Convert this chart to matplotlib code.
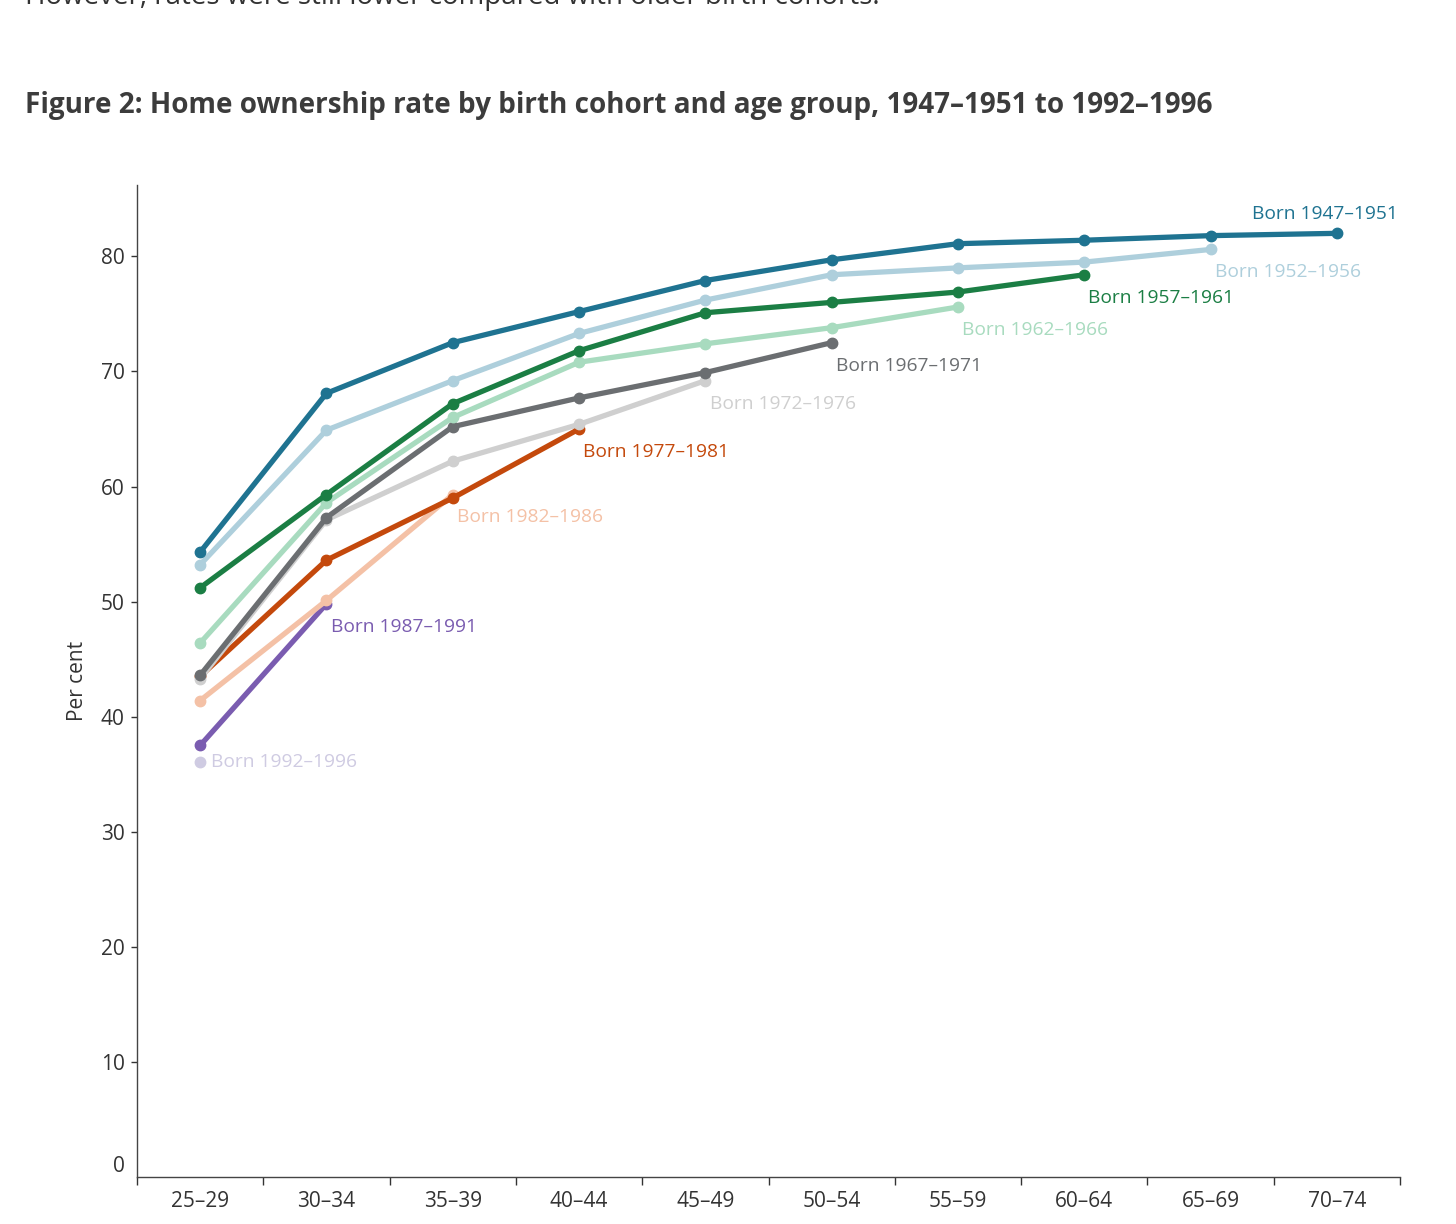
import numpy as np
import matplotlib.pyplot as plt
from matplotlib.ticker import FixedLocator

plt.rcParams['font.family'] = ['Open Sans', 'DejaVu Sans']

ages = ['25–29', '30–34', '35–39', '40–44', '45–49', '50–54', '55–59', '60–64', '65–69', '70–74']

cohorts = ['Born 1947–1951', 'Born 1952–1956', 'Born 1957–1961', 'Born 1962–1966', 'Born 1967–1971',
           'Born 1972–1976', 'Born 1977–1981', 'Born 1982–1986', 'Born 1987–1991', 'Born 1992–1996']

b1947 = [54.3, 68.1, 72.5, 75.2, 77.9, 79.7, 81.1, 81.4, 81.8, 82.0]
b1952 = [53.2, 64.9, 69.2, 73.3, 76.2, 78.4, 79.0, 79.5, 80.6]
b1957 = [51.2, 59.3, 67.2, 71.8, 75.1, 76.0, 76.9, 78.4]
b1962 = [46.4, 58.6, 66.0, 70.8, 72.4, 73.8, 75.6]
b1967 = [43.6, 57.3, 65.2, 67.7, 69.9, 72.5]
b1972 = [43.3, 57.1, 62.2, 65.4, 69.2]
b1977 = [43.5, 53.6, 59.0, 65.0]
b1982 = [41.4, 50.1, 59.3]
b1987 = [37.5, 49.8]
b1992 = [36.1]
values = [b1947, b1952, b1957, b1962, b1967, b1972, b1977, b1982, b1987, b1992]

colors = ['#1f7391', '#aecfdc', '#1b7e44', '#a8dbbf', '#6b6e71',
          '#cfcfcf', '#c4490c', '#f4c1a6', '#7a5cb0', '#cfcbe2']

fig = plt.figure(figsize=(14.56, 12.24), dpi=100)
ax = fig.add_axes([137/1456, 47/1224, (1400-137)/1456, (1177-185)/1224])

for i, (name, vals, c) in enumerate(zip(cohorts, values, colors)):
    x = np.arange(len(vals))
    ax.plot(x, vals, color=c, lw=3.8, marker='o', ms=7.5, zorder=20-i, solid_capstyle='round')
    # label near the last point
    if i == 0:
        ax.annotate(name, (x[-1], vals[-1]), xytext=(-61, 14), textcoords='offset points',
                    color=c, fontsize=13.8, va='center', ha='left')
    elif i == len(cohorts) - 1:
        ax.annotate(name, (x[-1], vals[-1]), xytext=(8, 0), textcoords='offset points',
                    color=c, fontsize=13.8, va='center', ha='left')
    else:
        ax.annotate(name, (x[-1], vals[-1]), xytext=(3, -16.5), textcoords='offset points',
                    color=c, fontsize=13.8, va='center', ha='left')

ax.set_xlim(-0.5, 9.5)
ax.set_ylim(0, 86.2)
ax.set_xticks(np.arange(len(ages)))
ax.set_xticklabels(ages, fontsize=15, color='#333333')
ax.xaxis.set_minor_locator(FixedLocator(np.arange(-0.5, 10, 1)))
ax.tick_params(axis='x', which='major', length=0, pad=10)
ax.tick_params(axis='x', which='minor', length=6, width=1, color='#333333')
ax.set_yticks(np.arange(0, 81, 10))
ax.set_yticklabels([str(v) for v in range(0, 81, 10)], fontsize=15, color='#333333')
ax.tick_params(axis='y', length=4, width=1, color='#333333', pad=5)
ax.get_yticklabels()[0].set_verticalalignment('bottom')
ax.yaxis.get_major_ticks()[0].tick1line.set_visible(False)
for s in ['top', 'right']:
    ax.spines[s].set_visible(False)
for s in ['left', 'bottom']:
    ax.spines[s].set_color('#444444')
    ax.spines[s].set_linewidth(1)
ax.set_ylabel('Per cent', fontsize=15, color='#333333', labelpad=9)

fig.text(25/1456, 1 - 105/1224, 'Figure 2: Home ownership rate by birth cohort and age group, 1947–1951 to 1992–1996',
         fontsize=20.1, fontweight='bold', color='#3c3c3c', va='center', ha='left')
# the sentence above the figure is cut off at the top edge, as in the original screenshot
fig.text(25/1456, 1 - 4/1224, 'However, rates were still lower compared with older birth cohorts.',
         fontsize=20, color='#333333', va='baseline', ha='left')

fig.savefig('out.png', dpi=100)
